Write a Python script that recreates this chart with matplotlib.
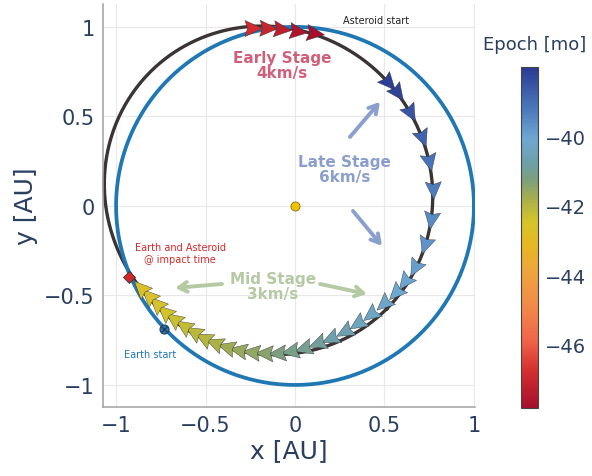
import numpy as np
import matplotlib.pyplot as plt
from matplotlib.colors import LinearSegmentedColormap, Normalize
from matplotlib.cm import ScalarMappable
from matplotlib.markers import MarkerStyle
from matplotlib.path import Path
from matplotlib.transforms import Affine2D

# asteroid samples at the start of the run (top of the orbit) [AU]
early_x = [-0.240, -0.156, -0.078, 0.011, 0.106]
early_y = [0.994, 0.994, 0.989, 0.978, 0.966]
early_epoch = [-46.9, -47.1, -47.35, -47.6, -47.8]

# asteroid samples for the late and mid stage, in order of travel [AU]
late_x = [0.520, 0.570, 0.642, 0.709, 0.749, 0.771, 0.760, 0.726, 0.670, 0.615,
          0.564, 0.497, 0.425, 0.352, 0.279, 0.201, 0.128, 0.050, -0.022, -0.095,
          -0.168, -0.240, -0.313, -0.380, -0.447, -0.508, -0.564, -0.620, -0.676,
          -0.726, -0.771, -0.816, -0.860]
late_y = [0.693, 0.637, 0.525, 0.385, 0.251, 0.095, -0.073, -0.212, -0.341, -0.419,
          -0.480, -0.542, -0.603, -0.654, -0.698, -0.737, -0.765, -0.793, -0.810, -0.821,
          -0.821, -0.816, -0.804, -0.788, -0.765, -0.737, -0.704, -0.670, -0.631,
          -0.592, -0.547, -0.503, -0.458]
late_epoch = [-38.1, -38.2, -38.5, -38.8, -39.1, -39.3, -39.5, -39.7, -39.9, -40.0,
              -40.1, -40.2, -40.3, -40.4, -40.6, -40.7, -40.9, -41.0, -41.1, -41.2,
              -41.4, -41.5, -41.6, -41.7, -41.9, -42.0, -42.1, -42.2, -42.3,
              -42.4, -42.5, -42.6, -42.7]

sun_xy = (0.0, 0.0)
earth_start_xy = (-0.73, -0.69)
impact_xy = (-0.927, -0.397)

# asteroid orbit: ellipse centre, semi-axes and tilt (deg)
orbit_center = (-0.148, 0.087)
orbit_axes = (0.935, 0.90)
orbit_tilt = -45.0
earth_radius = 1.0

epoch_range = (-47.83, -38.0)

text_color = '#2a3f5f'
early_color = '#d0607a'
late_color = '#8b9fcf'
mid_color = '#b5c9a2'

cmap = LinearSegmentedColormap.from_list('epoch', [
    (0.00, '#a50f2d'), (0.11, '#d6302f'), (0.20, '#f0664a'), (0.30, '#f08a48'),
    (0.40, '#eea53c'), (0.48, '#e6b822'), (0.55, '#d4c42c'), (0.61, '#a8b048'),
    (0.67, '#7e9f7c'), (0.72, '#6d9fa8'), (0.79, '#6fa8d2'), (0.88, '#4a78bc'),
    (1.00, '#2a3a92')])
norm = Normalize(*epoch_range)

fig = plt.figure(figsize=(5.92, 4.77), dpi=100)
ax = fig.add_axes([0.174, 0.1447, 0.6284, 0.8449])
cax = fig.add_axes([0.880, 0.1426, 0.0287, 0.7149])

# orbits
t = np.linspace(0, 2 * np.pi, 500)
ca, sa = np.cos(np.radians(orbit_tilt)), np.sin(np.radians(orbit_tilt))
u = orbit_axes[0] * np.cos(t)
v = orbit_axes[1] * np.sin(t)
ax.plot(orbit_center[0] + u * ca - v * sa, orbit_center[1] + u * sa + v * ca,
        color='#3a3434', lw=2.4, zorder=2, clip_on=False)
ax.plot(earth_radius * np.cos(t), earth_radius * np.sin(t),
        color='#1f77b4', lw=2.7, zorder=3)

# arrow-head marker pointing up, rotated per sample
arrow = Path([(0, 1.0), (0.8, -0.75), (0, -0.5), (-0.8, -0.75), (0, 1.0)],
             [Path.MOVETO, Path.LINETO, Path.LINETO, Path.LINETO, Path.CLOSEPOLY])


def draw_arrows(xs, ys, epochs):
    xs, ys = np.asarray(xs), np.asarray(ys)
    heading = np.degrees(np.arctan2(np.gradient(ys), np.gradient(xs)))
    for x, y, h, e in zip(xs, ys, heading, epochs):
        m = MarkerStyle(arrow, transform=Affine2D().rotate_deg(h - 90))
        ax.plot(x, y, marker=m, ms=14.5, color=cmap(norm(e)),
                mec='#333333', mew=0.3, zorder=5)


draw_arrows(early_x, early_y, early_epoch)
draw_arrows(late_x, late_y, late_epoch)

ax.plot(*sun_xy, 'o', ms=6.5, color='#f2c200', mec='#8a6d00', mew=0.6, zorder=6)
ax.plot(*impact_xy, 'D', ms=6, color='#d62728', mec='#333333', mew=0.6, zorder=6)
ax.plot(*earth_start_xy, 'o', ms=6.5, color='#1f77b4', mec='#2a3f5f', mew=0.8, zorder=6)
ax.plot(*earth_start_xy, 'x', ms=4.5, color='#2a3f5f', mew=1.0, zorder=7)

# stage labels and arrows
bold = dict(fontsize=11, fontweight='bold', ha='center', va='center', linespacing=0.95)
ax.text(-0.073, 0.788, 'Early Stage\n4km/s', color=early_color, **bold)
ax.text(0.279, 0.207, 'Late Stage\n6km/s', color=late_color, **bold)
ax.text(-0.123, -0.447, 'Mid Stage\n3km/s', color=mid_color, **bold)

stage_arrows = [
    ((0.307, 0.385), (0.475, 0.581), late_color),
    ((0.324, -0.028), (0.486, -0.223), late_color),
    ((-0.408, -0.436), (-0.670, -0.458), mid_color),
    ((0.140, -0.436), (0.402, -0.492), mid_color),
]
for tail, head, c in stage_arrows:
    ax.annotate('', xy=head, xytext=tail,
                arrowprops=dict(arrowstyle='->,head_length=0.6,head_width=0.35',
                                color=c, lw=2.8, shrinkA=0, shrinkB=0))

small = dict(fontsize=7, ha='center', va='center')
ax.text(0.453, 1.04, 'Asteroid start', color='#222222', **small)
ax.text(-0.642, -0.263, 'Earth and Asteroid\n@ impact time', color='#d62728',
        linespacing=1.3, **small)
ax.text(-0.81, -0.827, 'Earth start', color='#1f77b4', **small)

# axes styling
ticks = [-1, -0.5, 0, 0.5, 1]
labels = ['\u22121', '\u22120.5', '0', '0.5', '1']
ax.set_xlim(-1.073, 1.006)
ax.set_ylim(-1.123, 1.128)
ax.set_xticks(ticks, labels)
ax.set_yticks(ticks, labels)
ax.tick_params(length=0, labelsize=15, colors=text_color, pad=6)
ax.grid(True, color='#e8e8e8', lw=0.8)
ax.set_axisbelow(True)
for s in ['top', 'right']:
    ax.spines[s].set_visible(False)
for s in ['left', 'bottom']:
    ax.spines[s].set_color('#a0a0a0')
    ax.spines[s].set_linewidth(1.1)
ax.set_xlabel('x [AU]', fontsize=18, color=text_color, labelpad=2)
ax.set_ylabel('y [AU]', fontsize=18, color=text_color, labelpad=4)

cb = fig.colorbar(ScalarMappable(norm=norm, cmap=cmap), cax=cax)
cb.set_ticks([-46, -44, -42, -40])
cb.ax.tick_params(length=0, labelsize=14, colors=text_color, pad=5)
cb.outline.set_edgecolor('#444444')
cb.outline.set_linewidth(0.8)
fig.text(535 / 592, 1 - 45 / 477, 'Epoch [mo]', fontsize=13, color=text_color,
         ha='center', va='center')

fig.savefig('out.png', dpi=100)
